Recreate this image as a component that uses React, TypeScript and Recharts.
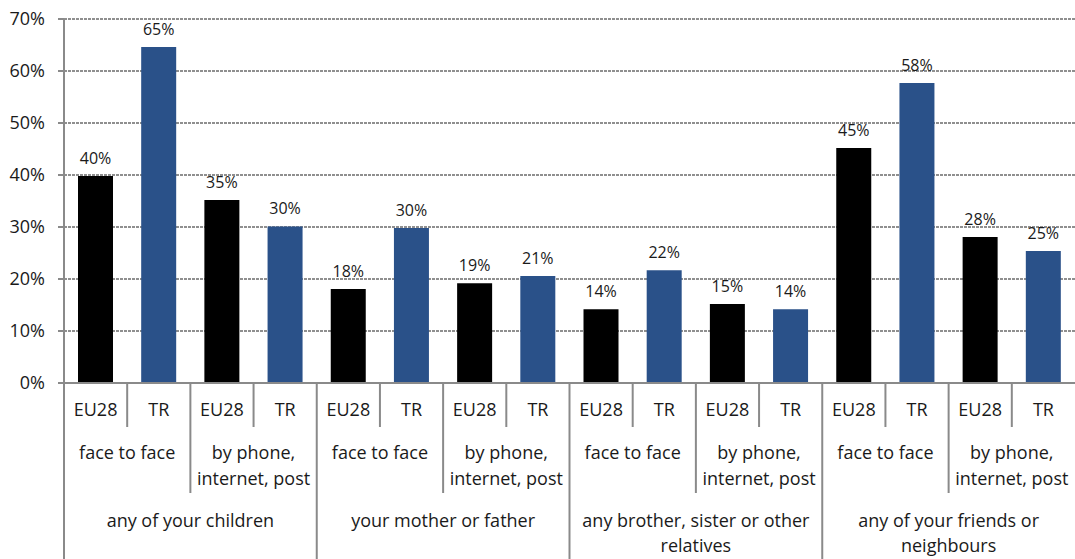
import React from "react";
import { BarChart, Bar, XAxis, YAxis, CartesianGrid, Cell, LabelList } from "recharts";

// values (percent)
const countries = ["EU28", "TR"];
const modes = [["face to face"], ["by phone,", "internet, post"]];
const contacts = [
  ["any of your children"],
  ["your mother or father"],
  ["any brother, sister or other", "relatives"],
  ["any of your friends or", "neighbours"],
];
const eu28 = [39.8, 35.2, 18.1, 19.2, 14.2, 15.2, 45.2, 28.1];
const tr = [64.6, 30.1, 29.8, 20.6, 21.7, 14.2, 57.7, 25.4];
const yTicks = [0, 10, 20, 30, 40, 50, 60, 70];

const colors: Record<string, string> = { EU28: "#000000", TR: "#2a5189" };

const data = eu28.flatMap((v, i) => [
  { key: `e${i}`, country: countries[0], value: v },
  { key: `t${i}`, country: countries[1], value: tr[i] },
]);

const W = 1075;
const H = 559;
const LEFT = 64;
const BW = (W - LEFT) / data.length;
const LINE = "#8a8a8a";
const FONT = "'Open Sans', 'Noto Sans', sans-serif";
const FS = 18;

if (typeof document !== "undefined") document.body.style.margin = "0";

// three-level category axis: country / mode / contact, with separators
function GroupTick(props: any) {
  const { x, y, payload } = props;
  const i: number = payload.index;
  const row = data[i];
  const right = x + BW / 2;
  const sepBottom = i % 4 === 3 ? H : i % 4 === 1 ? y + 110 : y + 44;
  const items: React.ReactNode[] = [];
  items.push(
    <text key="c" x={x} y={y + 33} textAnchor="middle" fontSize={FS} fill="#1a1a1a">
      {row.country}
    </text>
  );
  if (i < data.length - 1)
    items.push(<line key="s" x1={right} x2={right} y1={y} y2={sepBottom} stroke={LINE} strokeWidth={2} />);
  if (i === 0)
    items.push(<line key="l" x1={x - BW / 2} x2={x - BW / 2} y1={y} y2={H} stroke={LINE} strokeWidth={2} />);
  if (i % 2 === 0) {
    const lines = modes[(i / 2) % 2];
    lines.forEach((t, k) =>
      items.push(
        <text key={`m${k}`} x={right} y={y + 76 + k * 26} textAnchor="middle" fontSize={FS} fill="#1a1a1a">
          {t}
        </text>
      )
    );
  }
  if (i % 4 === 0) {
    const lines = contacts[i / 4];
    lines.forEach((t, k) =>
      items.push(
        <text key={`p${k}`} x={x + BW * 1.5} y={y + 144 + k * 25} textAnchor="middle" fontSize={FS} fill="#1a1a1a">
          {t}
        </text>
      )
    );
  }
  return <g>{items}</g>;
}

export default function App() {
  return (
    <div style={{ width: W, height: H, fontFamily: FONT, background: "#fff" }}>
      <BarChart width={W} height={H} data={data} margin={{ top: 19, right: 0, bottom: 0, left: 0 }}>
        <CartesianGrid vertical={false} stroke="#8f8f8f" strokeWidth={2} strokeDasharray="3 1" />
        <XAxis
          dataKey="key"
          height={H - 19 - 364}
          interval={0}
          tickLine={false}
          tickSize={0}
          tickMargin={0}
          axisLine={{ stroke: LINE, strokeWidth: 2 }}
          tick={<GroupTick />}
        />
        <YAxis
          width={LEFT}
          domain={[0, 70]}
          ticks={yTicks}
          tickFormatter={(v) => `${v}%`}
          axisLine={{ stroke: LINE, strokeWidth: 2 }}
          tickLine={{ stroke: LINE, strokeWidth: 2 }}
          tickSize={6}
          tickMargin={13}
          tick={{ fontSize: FS, fill: "#1a1a1a", fontFamily: FONT }}
        />
        <Bar dataKey="value" barSize={35} isAnimationActive={false}>
          {data.map((d) => (
            <Cell key={d.key} fill={colors[d.country]} />
          ))}
          <LabelList
            dataKey="value"
            position="top"
            offset={12}
            formatter={(v: any) => `${Math.round(Number(v))}%`}
            style={{ fontSize: 16, fill: "#1a1a1a", fontFamily: FONT }}
          />
        </Bar>
      </BarChart>
    </div>
  );
}
